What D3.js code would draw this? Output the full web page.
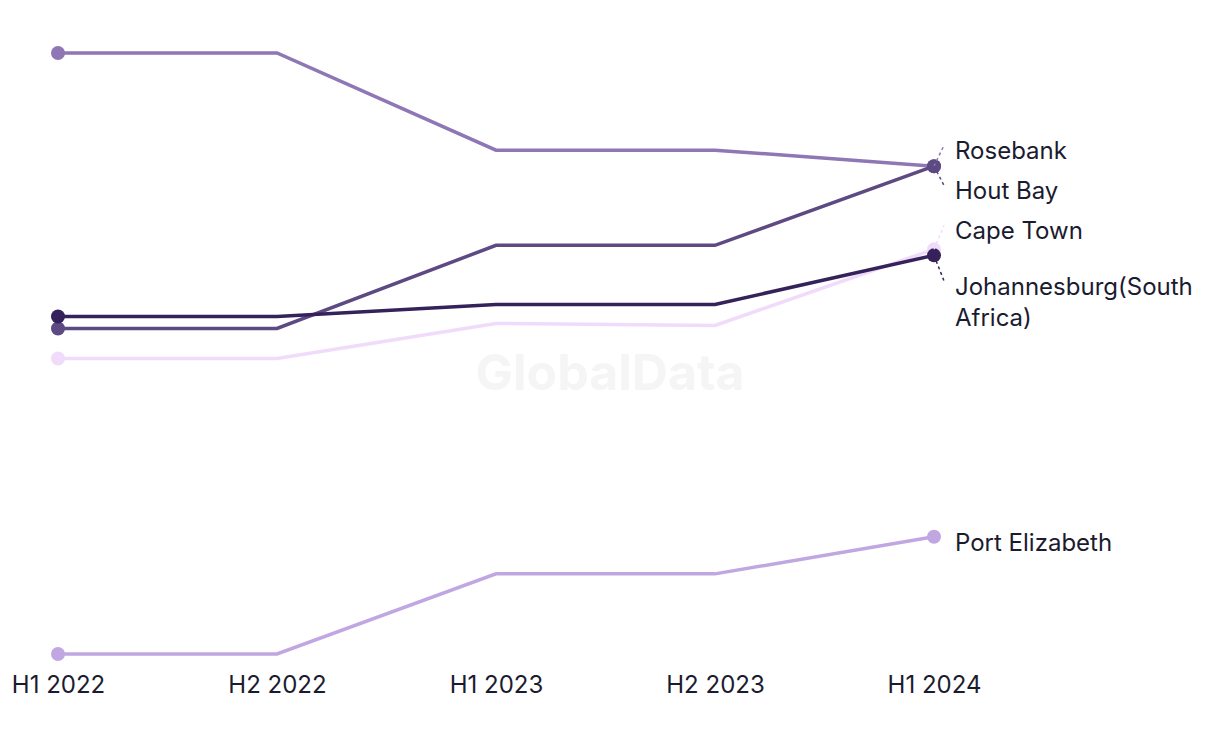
<!DOCTYPE html>
<html>
<head>
<meta charset="utf-8">
<script src="https://cdn.jsdelivr.net/npm/d3@7"></script>
<style>
  html, body { margin: 0; padding: 0; background: #ffffff; }
  svg { display: block; font-family: Inter, "Noto Sans", sans-serif; }
</style>
</head>
<body>
<svg id="chart" width="1220" height="744"></svg>
<script>
// ---- data (no y-axis shown, relative index units) ----
const periods = ["H1 2022", "H2 2022", "H1 2023", "H2 2023", "H1 2024"];
const seriesNames = ["Port Elizabeth", "Rosebank", "Cape Town", "Hout Bay", "Johannesburg(South Africa)"];
const portElizabeth = [0.0, 0.0, 8.0, 8.0, 11.7];
const rosebank      = [60.0, 60.0, 50.3, 50.3, 48.7];
const capeTown      = [29.5, 29.5, 33.0, 32.8, 40.4];
const houtBay       = [32.5, 32.5, 40.8, 40.8, 48.7];
const johannesburg  = [33.7, 33.7, 34.9, 34.9, 39.8];
const seriesValues = [portElizabeth, rosebank, capeTown, houtBay, johannesburg];
const seriesColors = ["#c0a7e2", "#8f76b4", "#f1dbfb", "#5d4a82", "#35225a"];
const labelLines = [["Port Elizabeth"], ["Rosebank"], ["Cape Town"], ["Hout Bay"], ["Johannesburg(South", "Africa)"]];

// ---- layout ----
const W = 1220, H = 744;
const margin = { top: 53, right: 286, bottom: 90, left: 58 };
const svg = d3.select("#chart");

const x = d3.scalePoint().domain(periods).range([margin.left, W - margin.right]);
const allVals = seriesValues.flat();
const y = d3.scaleLinear()
  .domain([d3.min(allVals), d3.max(allVals)])
  .range([H - margin.bottom, margin.top]);

const series = seriesNames.map((name, i) => ({
  name, color: seriesColors[i], lines: labelLines[i],
  values: seriesValues[i].map((v, j) => ({ period: periods[j], value: v }))
}));

// watermark
svg.append("text")
  .attr("x", W / 2)
  .attr("y", 390)
  .attr("text-anchor", "middle")
  .attr("font-size", 50)
  .attr("font-weight", 700)
  .attr("fill", "#f5f5f5")
  .text("GlobalData");

// x axis labels
const xAxis = d3.axisBottom(x).tickSize(0).tickPadding(0);
const gx = svg.append("g")
  .attr("transform", `translate(0,${H - margin.bottom + 22})`)
  .call(xAxis);
gx.select(".domain").remove();
gx.selectAll("text")
  .attr("font-family", "Inter, sans-serif")
  .attr("font-size", 24)
  .attr("fill", "#1b1b30")
  .attr("dy", "0.72em");

// lines
const line = d3.line().x(d => x(d.period)).y(d => y(d.value));
const gs = svg.append("g").selectAll("g").data(series).join("g");
gs.append("path")
  .attr("d", d => line(d.values))
  .attr("fill", "none")
  .attr("stroke", d => d.color)
  .attr("stroke-width", 3.5)
  .attr("stroke-linejoin", "miter");
gs.append("circle")
  .attr("cx", d => x(d.values[0].period))
  .attr("cy", d => y(d.values[0].value))
  .attr("r", 7)
  .attr("fill", d => d.color);
gs.append("circle")
  .attr("cx", d => x(d.values[d.values.length - 1].period))
  .attr("cy", d => y(d.values[d.values.length - 1].value))
  .attr("r", 7)
  .attr("fill", d => d.color);

// end label layout (collision avoidance)
const lineH = 31, pad = 9;
const labels = series.map(s => {
  const v = s.values[s.values.length - 1].value;
  return { s, target: y(v), h: s.lines.length * lineH + pad };
}).sort((a, b) => a.target - b.target || 0);
let clusters = labels.map(l => ({ items: [l] }));
function placeCluster(c) {
  const offs = [0];
  for (let i = 1; i < c.items.length; i++)
    offs.push(offs[i - 1] + (c.items[i - 1].h + c.items[i].h) / 2);
  const meanT = d3.mean(c.items, d => d.target);
  const meanO = d3.mean(offs);
  c.items.forEach((it, i) => it.pos = meanT - meanO + offs[i]);
}
clusters.forEach(placeCluster);
let merged = true;
while (merged) {
  merged = false;
  for (let i = 0; i < clusters.length - 1; i++) {
    const a = clusters[i], b = clusters[i + 1];
    const la = a.items[a.items.length - 1], fb = b.items[0];
    if (fb.pos - la.pos < (la.h + fb.h) / 2 - 0.01) {
      const c = { items: a.items.concat(b.items) };
      placeCluster(c);
      clusters.splice(i, 2, c);
      merged = true;
      break;
    }
  }
}

const xEnd = x(periods[periods.length - 1]);
const lg = svg.append("g");
labels.forEach(l => {
  if (Math.abs(l.pos - l.target) > 3) {
    lg.append("line")
      .attr("x1", xEnd).attr("y1", l.target)
      .attr("x2", xEnd + 10).attr("y2", l.pos)
      .attr("stroke", l.s.color)
      .attr("stroke-width", 1.5)
      .attr("stroke-dasharray", "3,3");
  }
  const t = lg.append("text")
    .attr("x", xEnd + 21)
    .attr("y", l.pos + 14)
    .attr("font-size", 24)
    .attr("fill", "#1b1b30");
  l.s.lines.forEach((ln, k) => {
    t.append("tspan").attr("x", xEnd + 21).attr("dy", k === 0 ? 0 : lineH).text(ln);
  });
});
</script>
</body>
</html>
